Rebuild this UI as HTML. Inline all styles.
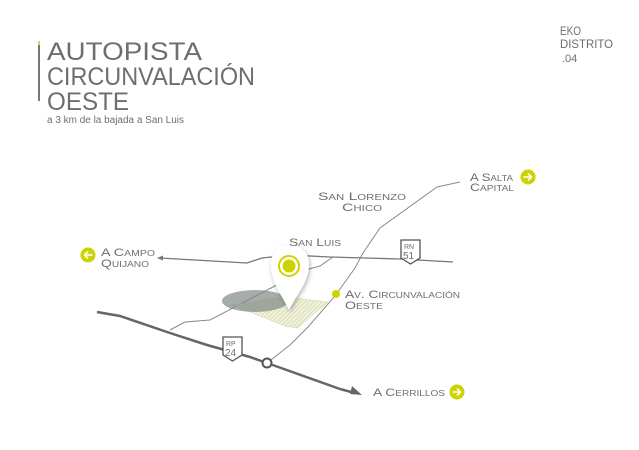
<!DOCTYPE html>
<html><head><meta charset="utf-8"><style>
body{margin:0;background:#fff;}
svg{display:block}
text{font-family:"Liberation Sans",sans-serif;fill:#6e6e6e}
.sc{font-variant:small-caps}
</style></head><body>
<svg width="639" height="450" viewBox="0 0 639 450" xmlns="http://www.w3.org/2000/svg">
<defs>
<pattern id="h" width="3" height="3" patternUnits="userSpaceOnUse" patternTransform="rotate(45)">
<rect width="3" height="3" fill="#f0f2dc"/><line x1="0" y1="0" x2="0" y2="3" stroke="#c9cc9a" stroke-width="1"/></pattern>
<filter id="sh" x="-50%" y="-50%" width="200%" height="200%"><feDropShadow dx="1" dy="2" stdDeviation="2" flood-opacity="0.3"/></filter>
</defs>
<!-- header -->
<rect x="38" y="41" width="2" height="4" fill="#d4dc3c"/>
<rect x="38" y="45" width="2" height="56" fill="#777"/>
<g>
<text x="47" y="60" font-size="25" fill="#8a8a8a" textLength="155" lengthAdjust="spacingAndGlyphs">AUTOPISTA</text>
<text x="47" y="85" font-size="25" fill="#8a8a8a" textLength="208" lengthAdjust="spacingAndGlyphs">CIRCUNVALACIÓN</text>
<text x="47" y="110" font-size="25" fill="#8a8a8a" textLength="82" lengthAdjust="spacingAndGlyphs">OESTE</text>
</g>
<text x="47" y="123" font-size="10" fill="#777" textLength="137" lengthAdjust="spacingAndGlyphs">a 3 km de la bajada a San Luis</text>
<text x="560" y="35" font-size="12" fill="#666" textLength="21" lengthAdjust="spacingAndGlyphs">EKO</text>
<text x="560" y="48" font-size="12" fill="#666" textLength="53" lengthAdjust="spacingAndGlyphs">DISTRITO</text>
<text x="562" y="62" font-size="11" fill="#e4e68a">.04</text>
<!-- roads -->
<polyline points="267,363 290,345 308,327 335,296 355,268 363,253 380,228 437,187 460,182" fill="none" stroke="#8a8a8a" stroke-width="1"/>
<polyline points="160,258 247,263 262,258 290,255 330,257 400,259 453,262" fill="none" stroke="#777" stroke-width="1.3"/>
<path d="M157,258 l6,-2.5 v5 z" fill="#777"/>
<polyline points="333,257 320,266 302,271 273,287 210,320 185,322 170,330" fill="none" stroke="#8a8a8a" stroke-width="1"/>
<polyline points="97,312 120,316 170,333 207,345 250,357 267,363 340,389" fill="none" stroke="#666" stroke-width="2.5"/>
<path d="M362,395 l-10,-9 l-2,8 z" fill="#666"/>
<path d="M340,389 L355,393" stroke="#666" stroke-width="2.5"/>
<circle cx="267" cy="363" r="4.5" fill="#fff" stroke="#555" stroke-width="2"/>
<!-- area -->
<polygon points="232,305 285,297 328,302 297,328 285,326" fill="url(#h)" stroke="#d6d8aa" stroke-width="0.6"/>
<ellipse cx="255" cy="301" rx="33" ry="11" fill="#7f8985" opacity="0.7"/>
<!-- pin -->
<path d="M289,310 C280,292 271,282 271,264 C271,252 279,245 290,245 C301,245 309,252 309,264 C309,282 298,292 289,310 Z" fill="#fff" filter="url(#sh)"/>
<circle cx="289" cy="266" r="10" fill="none" stroke="#cdd300" stroke-width="2"/>
<circle cx="289" cy="266" r="6.5" fill="#cdd300"/>
<circle cx="336" cy="294" r="4" fill="#cdd300"/>
<!-- shields -->
<g fill="#fff" stroke="#555" stroke-width="1.3">
<path d="M401,240 h19 v18 l-9.5,6 l-9.5,-6 z"/>
<path d="M223,337 h19 v18 l-9.5,6 l-9.5,-6 z"/>
</g>
<text x="404" y="249" font-size="7" fill="#555">RN</text>
<text x="403" y="259" font-size="10" fill="#555">51</text>
<text x="226" y="346" font-size="7" fill="#555">RP</text>
<text x="225" y="356" font-size="10" fill="#555">24</text>
<!-- labels -->
<g font-size="11" class="sc">
<text x="318" y="200" textLength="88" lengthAdjust="spacingAndGlyphs">San Lorenzo</text>
<text x="342" y="211" textLength="40" lengthAdjust="spacingAndGlyphs">Chico</text>
<text x="289" y="246" textLength="52" lengthAdjust="spacingAndGlyphs">San Luis</text>
<text x="101" y="256" textLength="54" lengthAdjust="spacingAndGlyphs">A Campo</text>
<text x="101" y="267" textLength="48" lengthAdjust="spacingAndGlyphs">Quijano</text>
<text x="345" y="298" textLength="115" lengthAdjust="spacingAndGlyphs">Av. Circunvalación</text>
<text x="345" y="309" textLength="38" lengthAdjust="spacingAndGlyphs">Oeste</text>
<text x="470" y="181" textLength="43" lengthAdjust="spacingAndGlyphs">A Salta</text>
<text x="470" y="191" textLength="44" lengthAdjust="spacingAndGlyphs">Capital</text>
<text x="373" y="396" textLength="72" lengthAdjust="spacingAndGlyphs">A Cerrillos</text>
</g>
<!-- arrow buttons -->
<g fill="#cdd300">
<circle cx="88" cy="255" r="7.5"/><circle cx="528" cy="177" r="7.5"/><circle cx="457" cy="392" r="7.5"/>
</g>
<g fill="none" stroke="#fff" stroke-width="1.6" stroke-linecap="round" stroke-linejoin="round">
<path d="M92,255 h-7 M87.5,252 l-3,3 l3,3"/>
<path d="M524,177 h7 M528.5,174 l3,3 l-3,3"/>
<path d="M453,392 h7 M457.5,389 l3,3 l-3,3"/>
</g>
</svg>
</body></html>
